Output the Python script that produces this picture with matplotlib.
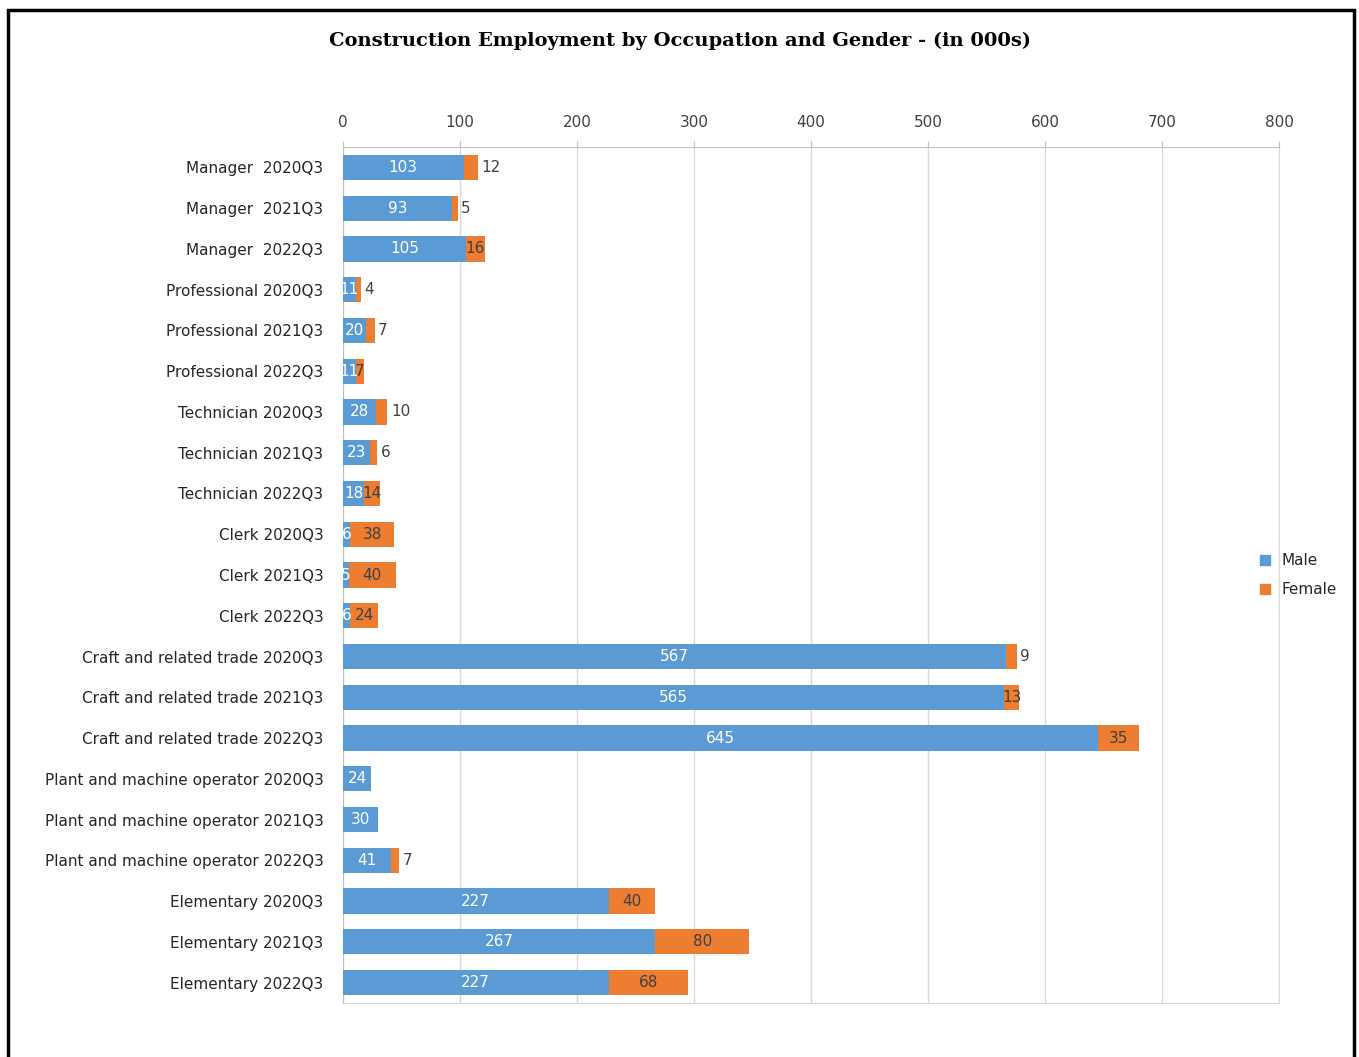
import numpy as np
import matplotlib.pyplot as plt
from matplotlib.patches import Rectangle
from matplotlib.lines import Line2D

# === Data (thousands) ===
categories = [
    'Manager  2020Q3', 'Manager  2021Q3', 'Manager  2022Q3',
    'Professional 2020Q3', 'Professional 2021Q3', 'Professional 2022Q3',
    'Technician 2020Q3', 'Technician 2021Q3', 'Technician 2022Q3',
    'Clerk 2020Q3', 'Clerk 2021Q3', 'Clerk 2022Q3',
    'Craft and related trade 2020Q3', 'Craft and related trade 2021Q3',
    'Craft and related trade 2022Q3',
    'Plant and machine operator 2020Q3', 'Plant and machine operator 2021Q3',
    'Plant and machine operator 2022Q3',
    'Elementary 2020Q3', 'Elementary 2021Q3', 'Elementary 2022Q3',
]
male = [103, 93, 105, 11, 20, 11, 28, 23, 18, 6, 5, 6,
        567, 565, 645, 24, 30, 41, 227, 267, 227]
female = [12, 5, 16, 4, 7, 7, 10, 6, 14, 38, 40, 24,
          9, 13, 35, 0, 0, 7, 40, 80, 68]
# female labels that sit just past the end of the bar
female_outside = [True, True, False, True, True, False, True, True, False,
                  False, False, False, True, False, False,
                  False, False, True, False, False, False]

male_color = '#5B9BD5'
female_color = '#ED7D31'

W, H = 1359, 1057
fig = plt.figure(figsize=(W / 100, H / 100), dpi=100)
ax = fig.add_axes([343 / W, 1 - 1003 / H, (1279 - 343) / W, (1003 - 147) / H])

y = np.arange(len(categories))
ax.barh(y, male, height=0.62, color=male_color, zorder=3)
ax.barh(y, female, left=male, height=0.62, color=female_color, zorder=3)

# === Data labels ===
for i in range(len(categories)):
    ax.text(male[i] / 2, i, str(male[i]), ha='center', va='center',
            color='white', fontsize=11, zorder=4)
    if female[i] == 0:
        continue
    if female_outside[i]:
        ax.text(male[i] + female[i] + 3, i, str(female[i]), ha='left',
                va='center', color='#404040', fontsize=11, zorder=4)
    else:
        ax.text(male[i] + female[i] / 2, i, str(female[i]), ha='center',
                va='center', color='#404040', fontsize=11, zorder=4)

# === Axes styling ===
ax.set_xlim(0, 800)
ax.set_ylim(len(categories) - 0.5, -0.5)
ax.set_xticks(np.arange(0, 801, 100))
ax.xaxis.tick_top()
ax.tick_params(axis='x', length=4, color='#bfbfbf', pad=8, labelsize=11,
               labelcolor='#404040')
ax.set_yticks(y)
ax.set_yticklabels(categories)
ax.tick_params(axis='y', length=0, pad=14, labelsize=11, labelcolor='#262626')
ax.grid(axis='x', color='#d9d9d9', linewidth=1, zorder=0)
for side in ['top', 'left']:
    ax.spines[side].set_color('#bfbfbf')
ax.spines['right'].set_color('#d9d9d9')
ax.spines['bottom'].set_color('#d9d9d9')

# === Title ===
fig.text(680 / W, 1 - 41 / H,
         'Construction Employment by Occupation and Gender - (in 000s)',
         ha='center', va='center', fontsize=14, fontweight='bold',
         family='DejaVu Serif')

# === Legend ===
handles = [Line2D([], [], marker='s', linestyle='', markersize=7, color=male_color),
           Line2D([], [], marker='s', linestyle='', markersize=7, color=female_color)]
fig.legend(handles, ['Male', 'Female'], loc='center left',
           bbox_to_anchor=(1236 / W, 1 - 575 / H), frameon=False,
           fontsize=11, handletextpad=0.1, labelspacing=0.9,
           labelcolor='#262626')

# === Outer frame ===
fig.patches.append(Rectangle((8 / W, -0.02), (1354 - 8) / W, 1.02 - 10 / H,
                             transform=fig.transFigure, fill=False,
                             edgecolor='black', linewidth=2.5))

plt.savefig('out.png', dpi=100)
